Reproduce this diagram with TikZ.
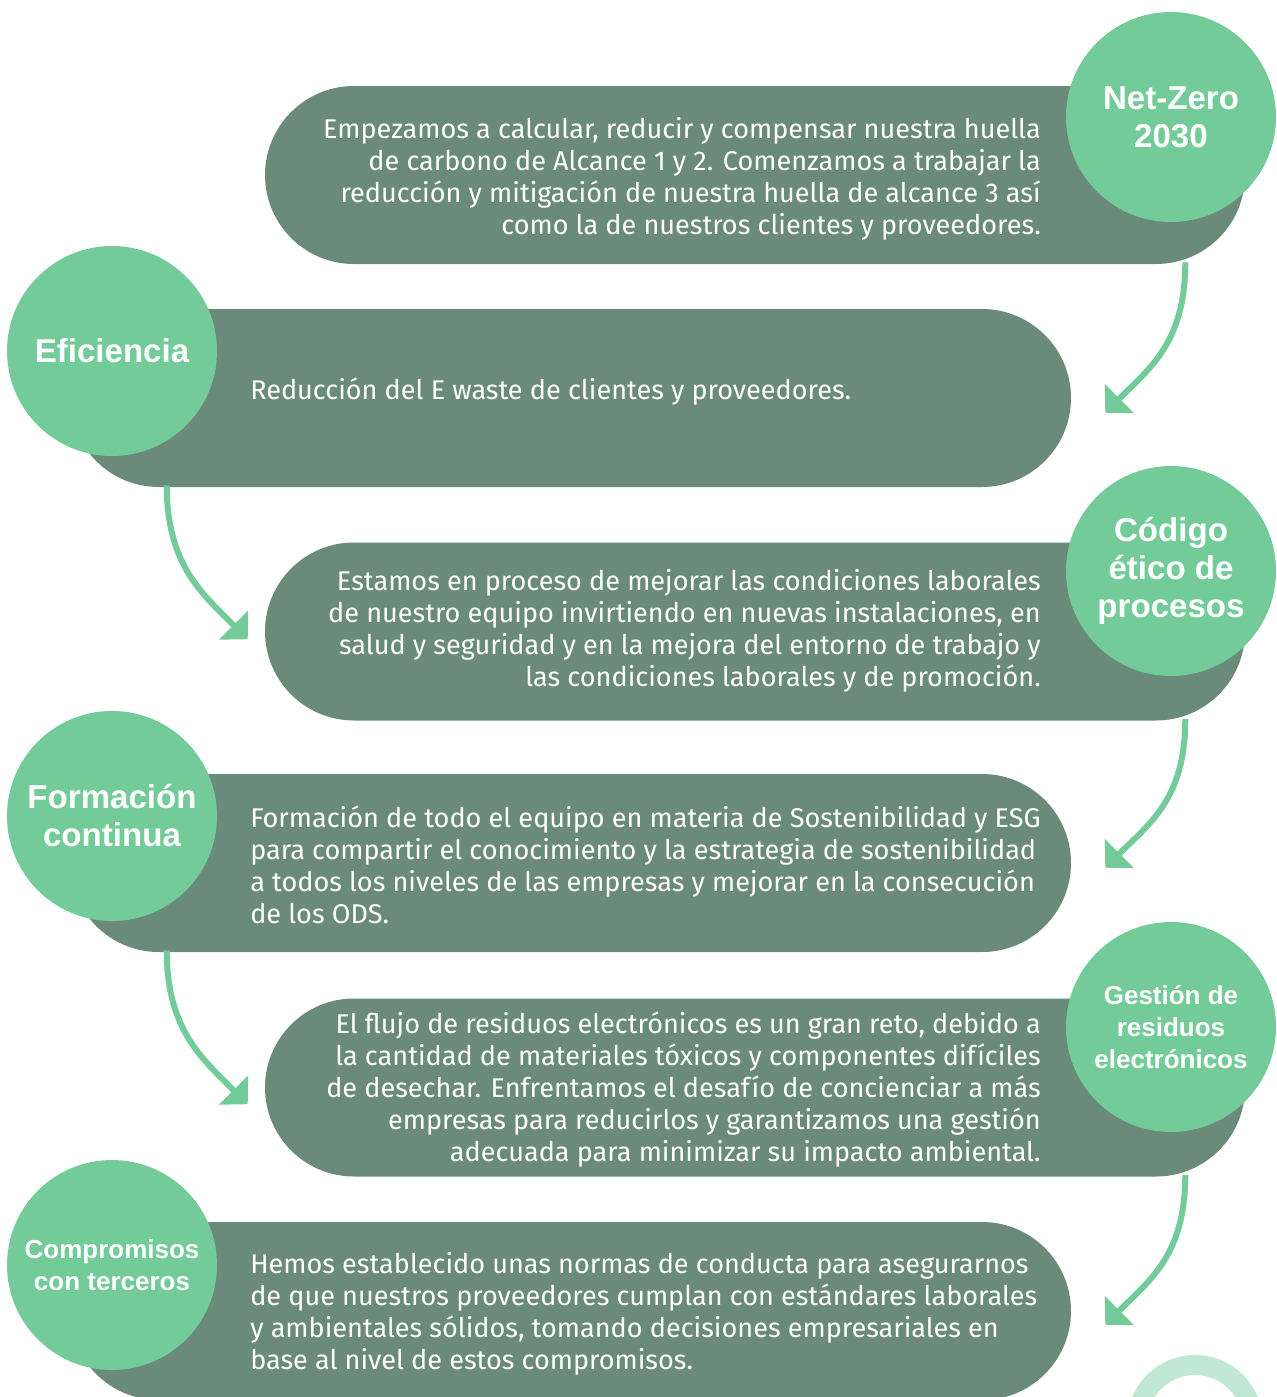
\documentclass[tikz,border=0pt]{standalone}
\usepackage{fontspec}
\setmainfont{Fira Sans}
\newfontfamily\titlefont{Liberation Sans}
\usetikzlibrary{positioning,arrows.meta,calc}
\definecolor{BoxGreen}{HTML}{6A8A7A}
\definecolor{DotGreen}{HTML}{73CB99}
\definecolor{RingGreen}{HTML}{C1E8D3}

\begin{document}
\begin{tikzpicture}[x=0.75pt, y=-0.75pt,
    box/.style={fill=BoxGreen, rounded corners=66.75pt, minimum height=133.5pt,
      inner sep=0pt},
    dot/.style={circle, fill=DotGreen, minimum size=157.5pt, inner sep=0pt,
      text=white, align=center, font=\titlefont\bfseries\fontsize{24.8}{28.5}\selectfont},
    smalldot/.style={dot, font=\titlefont\bfseries\fontsize{19.5}{24}\selectfont},
    txt/.style={text=white, inner sep=0pt, font=\fontsize{20.3}{24}\selectfont},
    arr/.style={draw=DotGreen, line width=4.5pt, -{Triangle[length=15pt,width=30pt]}}
  ]
    \clip (0,0) rectangle (1277,1397);

    % boxes
    \node[box, minimum width=735pt] (b1) at (755,175) {};
    \node[box, minimum width=750.75pt] (b2) at (570.5,398) {};
    \node[box, minimum width=735pt] (b3) at (755,631.5) {};
    \node[box, minimum width=750.75pt] (b4) at (570.5,863) {};
    \node[box, minimum width=735pt] (b5) at (755,1087.5) {};
    \node[box, minimum width=750.75pt] (b6) at (570.5,1311) {};

    % texts
    \node[txt, anchor=east, align=right] (t1) at (1041,179) {Empezamos a calcular, reducir y compensar nuestra huella\\de carbono de Alcance 1 y 2. Comenzamos a trabajar la\\reducción y mitigación de nuestra huella de alcance 3 así\\como la de nuestros clientes y proveedores.};
    \node[txt, anchor=west, align=left] (t2) at (250,392) {Reducción del E waste de clientes y proveedores.};
    \node[txt, anchor=east, align=right] (t3) at (1041,631) {Estamos en proceso de mejorar las condiciones laborales\\de nuestro equipo invirtiendo en nuevas instalaciones, en\\salud y seguridad y en la mejora del entorno de trabajo y\\las condiciones laborales y de promoción.};
    \node[txt, anchor=west, align=left] (t4) at (250,865) {Formación de todo el equipo en materia de Sostenibilidad y ESG\\para compartir el conocimiento y la estrategia de sostenibilidad\\a todos los niveles de las empresas y mejorar en la consecución\\de los ODS.};
    \node[txt, anchor=east, align=right] (t5) at (1041,1090) {El flujo de residuos electrónicos es un gran reto, debido a\\la cantidad de materiales tóxicos y componentes difíciles\\de desechar. Enfrentamos el desafío de concienciar a más\\empresas para reducirlos y garantizamos una gestión\\adecuada para minimizar su impacto ambiental.};
    \node[txt, anchor=west, align=left] (t6) at (250,1314) {Hemos establecido unas normas de conducta para asegurarnos\\de que nuestros proveedores cumplan con estándares laborales\\y ambientales sólidos, tomando decisiones empresariales en\\base al nivel de estos compromisos.};

    % circles
    \node[dot] (c1) at (1171,117) {Net-Zero\\2030};
    \node[dot] (c2) at (112,351) {Eficiencia};
    \node[dot] (c3) at (1171,571) {Código\\ético de\\procesos};
    \node[dot] (c4) at (112,816) {Formación\\continua};
    \node[smalldot] (c5) at (1171,1027) {Gestión de\\residuos\\electrónicos};
    \node[smalldot] (c6) at (112,1265) {Compromisos\\con terceros};

    \draw[RingGreen, line width=15pt] (1195,1423) circle[radius=58];

    % arrows
    \draw[arr] ($(b1.south east)+(-60,-2)$) .. controls +(0,80) and +(45,-45) .. ($(b2.north east)+(34,104)$);
    \draw[arr] ($(b2.south west)+(97,-2)$) .. controls +(0,80) and +(-45,-45) .. ($(b3.north west)+(-17,97)$);
    \draw[arr] ($(b3.south east)+(-60,-2)$) .. controls +(0,80) and +(45,-45) .. ($(b4.north east)+(34,94)$);
    \draw[arr] ($(b4.south west)+(97,-2)$) .. controls +(0,80) and +(-45,-45) .. ($(b5.north west)+(-17,106)$);
    \draw[arr] ($(b5.south east)+(-60,-2)$) .. controls +(0,80) and +(45,-45) .. ($(b6.north east)+(34,103)$);
  \end{tikzpicture}
\end{document}
